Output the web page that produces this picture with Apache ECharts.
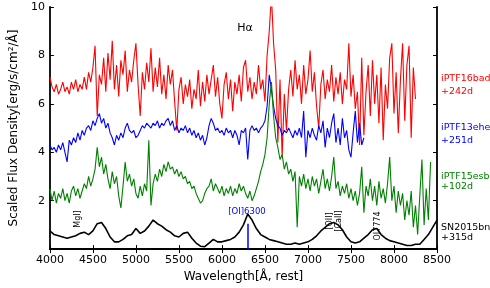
<!DOCTYPE html>
<html>
<head>
<meta charset="utf-8">
<script src="https://cdn.jsdelivr.net/npm/echarts@6/dist/echarts.min.js"></script>
<style>
  html, body { margin: 0; padding: 0; background: #fff; }
  #chart { width: 490px; height: 288px; }
</style>
</head>
<body>
<div id="chart"></div>
<script>
// flux samples, wavelength grid = start + step * i (Angstrom, rest)
const step = 25;
const redStart = 4000;
const redFlux = [
  7.1,6.7,6.5,6.8,6.4,6.6,6.9,6.5,6.7,6.4,6.9,6.6,7.0,6.5,6.8,6.6,7.1,
  6.6,7.3,6.9,7.5,8.4,5.5,7.2,6.8,7.9,6.5,8.1,7.0,8.6,6.6,7.6,6.3,7.8,7.2,8.2,6.5,7.4,
  6.9,7.8,8.5,6.8,5.5,7.3,6.6,7.7,6.9,8.3,6.5,7.5,6.7,7.9,6.4,7.2,6.2,7.6,6.8,7.4,6.1,4.9,
  6.6,7.1,6.0,6.8,6.3,7.0,5.8,6.6,6.2,7.4,5.9,6.9,6.1,7.2,6.4,
  7.0,7.6,6.3,7.1,6.0,5.4,6.8,7.3,6.2,7.0,5.7,6.9,6.4,7.2,6.1,7.5,7.8,6.5,7.1,6.2,6.9,6.4,
  7.6,6.6,7.0,6.1,8.0,
  9.0,10.5,8.5,7.4,4.4,7.0,3.8,6.4,4.9,6.6,
  7.4,6.3,7.8,6.6,7.2,6.0,7.6,6.4,7.0,8.2,6.5,7.3,5.9,5.0,6.8,7.4,6.2,7.0,6.5,7.6,6.1,7.1,
  6.4,7.3,6.0,7.0,6.6,8.5,6.3,7.2,5.8,6.5,4.3,7.9,4.7,6.5,
  7.6,5.5,7.8,6.0,7.2,5.2,7.5,4.5,6.8,5.8,7.9,8.5,5.6,7.3,4.8,7.0,8.5,5.3,7.6,8.4,4.6,7.5,6.2
];
const blueStart = 4000;
const blueFlux = [
  4.3,4.1,4.2,4.0,4.3,4.1,4.4,4.0,3.6,4.5,4.3,4.6,4.4,4.8,4.5,4.9,4.7,5.0,5.1,4.9,5.3,5.1,
  5.4,5.6,5.2,5.4,5.0,5.2,4.8,4.6,4.3,4.7,4.5,4.8,4.6,5.0,5.2,4.9,
  4.8,4.9,4.6,4.7,4.9,5.1,5.0,5.2,5.1,5.0,5.2,5.1,5.3,5.0,5.2,5.1,5.3,5.4,5.1,5.3,4.9,5.1,
  4.8,5.0,4.9,5.1,4.8,5.0,4.7,4.9,4.6,4.8,4.5,4.7,4.3,4.6,
  5.1,5.4,5.2,4.9,5.0,4.8,4.9,4.7,5.0,4.8,4.9,4.6,4.9,4.7,4.3,4.9,4.8,5.0,3.7,4.9,5.1,4.9,
  5.0,4.8,5.0,5.1,5.3,5.9,7.2,6.6,5.9,5.4,5.1,5.0,4.7,4.9,4.8,5.0,
  4.8,4.6,4.9,4.7,5.0,4.6,5.7,3.8,4.9,4.6,5.0,4.7,4.5,5.1,4.8,5.3,4.2,5.0,4.6,5.2,5.6,4.4,
  5.0,4.3,5.4,4.6,4.9,4.1,3.8,4.8,5.7,4.4,5.2,4.3,4.6
];
const greenStart = 4000;
const greenFlux = [
  2.5,2.0,2.4,1.9,2.3,2.1,2.5,2.0,2.3,1.9,2.4,2.6,2.2,2.5,2.1,2.4,2.7,2.5,3.0,2.6,2.9,3.3,
  4.2,3.4,3.8,3.1,3.5,2.9,2.5,3.2,2.7,3.0,2.2,1.7,2.6,3.6,2.8,3.1,
  2.6,2.9,2.3,2.1,2.6,2.2,2.7,2.4,4.5,1.8,2.7,3.1,2.8,3.3,3.0,3.5,3.2,3.6,3.3,3.4,3.1,3.3,
  3.0,3.2,2.9,3.0,2.7,2.8,2.5,2.6,2.3,2.1,1.9,2.0,2.3,2.5,
  2.6,2.9,2.4,2.7,2.5,2.3,2.6,2.2,2.5,2.3,2.6,2.2,2.5,2.3,2.7,2.4,2.6,2.3,2.1,2.4,2.0,2.2,
  2.5,2.8,3.2,3.5,3.9,4.6,6.0,6.9,5.5,4.6,4.2,3.7,3.9,3.3,3.6,3.1,
  3.3,2.8,3.2,0.9,3.0,2.6,3.1,2.5,2.9,2.4,3.0,2.6,2.9,2.3,2.8,3.3,2.5,2.9,2.4,3.0,3.8,2.5,
  2.8,2.2,2.6,2.3,2.7,2.1,2.5,2.0,2.4,1.8,2.3,3.4,1.5,2.6,
  2.2,2.9,2.0,2.6,1.8,2.8,2.1,2.5,1.9,2.7,3.8,2.0,2.6,1.5,2.4,1.8,2.3,1.2,2.0,1.4,2.4,0.9,
  1.8,0.6,2.2,3.7,1.0,2.5,1.2,3.6
];
const blackStart = 4000;
const blackStep = 50;
const blackFlux = [
  0.75,0.6,0.55,0.5,0.45,0.5,0.55,0.65,0.7,0.6,0.75,1.05,1.1,0.85,0.5,0.3,0.3,0.4,0.55,0.6,
  0.85,0.65,0.75,0.95,1.2,1.05,0.95,0.8,0.7,0.55,0.5,0.65,0.7,0.45,0.25,0.12,0.1,0.25,0.4,0.3,
  0.3,0.35,0.4,0.5,0.7,1.0,1.45,1.2,0.85,0.6,0.5,0.4,0.35,0.3,0.25,0.2,0.2,0.25,0.2,0.25,
  0.3,0.4,0.55,0.75,0.9,1.05,1.1,1.0,0.8,0.5,0.3,0.25,0.3,0.45,0.6,0.8,0.85,0.6,0.45,0.35,
  0.3,0.25,0.2,0.15,0.15,0.2,0.2,0.4,0.6,0.9,1.2
];

const xTicks = [4000, 4500, 5000, 5500, 6000, 6500, 7000, 7500, 8000, 8500];
const yTicks = [2, 4, 6, 8, 10];

function pairs(start, dx, arr) {
  return arr.map((v, i) => [start + dx * i, v]);
}

const font = 'DejaVu Sans';
let chart = echarts.init(document.getElementById('chart'));

const axisCommon = {
  axisLine: { show: true, lineStyle: { color: '#000', width: 1.8 } },
  axisTick: { show: true, inside: true, length: 4, lineStyle: { color: '#000', width: 1 } },
  splitLine: { show: false }
};

let option = {
  animation: false,
  grid: { left: 38, right: 53, top: 7, bottom: 34 },
  xAxis: [
    Object.assign({
      type: 'value', min: 4000, max: 8500, interval: 500, position: 'bottom',
      name: 'Wavelength[Å, rest]', nameLocation: 'middle', nameGap: 20,
      nameTextStyle: { fontFamily: font, fontSize: 12, color: '#000' },
      axisLabel: { fontFamily: font, fontSize: 11, color: '#000', margin: 6,
        formatter: v => (xTicks.indexOf(v) >= 0 ? String(v) : '') }
    }, axisCommon),
    Object.assign({
      type: 'value', min: 4000, max: 8500, interval: 500, position: 'top',
      axisLabel: { show: false }
    }, axisCommon)
  ],
  yAxis: [
    Object.assign({
      type: 'value', min: 0, max: 10, interval: 2, position: 'left',
      name: 'Scaled Flux Density[erg/s/cm²/Å]', nameLocation: 'middle', nameGap: 24,
      nameTextStyle: { fontFamily: font, fontSize: 12, color: '#000' },
      axisLabel: { fontFamily: font, fontSize: 11, color: '#000', margin: 5,
        formatter: v => (yTicks.indexOf(v) >= 0 ? String(v) : '') }
    }, axisCommon),
    Object.assign({
      type: 'value', min: 0, max: 10, interval: 2, position: 'right',
      axisLabel: { show: false }
    }, axisCommon)
  ],
  series: [
    {
      type: 'line', name: 'iPTF16bad', showSymbol: false, clip: true,
      data: pairs(redStart, step, redFlux),
      lineStyle: { color: '#ff0000', width: 1.1 }, itemStyle: { color: '#ff0000' }
    },
    {
      type: 'line', name: 'iPTF13ehe', showSymbol: false, clip: true,
      data: pairs(blueStart, step, blueFlux),
      lineStyle: { color: '#0000ff', width: 1.1 }, itemStyle: { color: '#0000ff' }
    },
    {
      type: 'line', name: 'iPTF15esb', showSymbol: false, clip: true,
      data: pairs(greenStart, step, greenFlux),
      lineStyle: { color: '#008000', width: 1.1 }, itemStyle: { color: '#008000' }
    },
    {
      type: 'line', name: 'SN2015bn', showSymbol: false, clip: true,
      data: pairs(blackStart, blackStep, blackFlux),
      lineStyle: { color: '#000', width: 1.6 }, itemStyle: { color: '#000' },
      markLine: {
        silent: true, symbol: 'none', label: { show: false },
        lineStyle: { color: '#0000ff', width: 1.5, type: 'solid' },
        data: [[{ coord: [6300, 0] }, { coord: [6300, 1.05] }]]
      }
    }
  ],
  graphic: [
    { type: 'text', x: 245, y: 28, style: { text: 'Hα', fill: '#000', font: '11px ' + font, textAlign: 'center', textVerticalAlign: 'middle' } },
    { type: 'text', x: 78, y: 219, rotation: Math.PI / 2, style: { text: 'MgI]', fill: '#000', font: '8px ' + font, textAlign: 'center', textVerticalAlign: 'middle' } },
    { type: 'text', x: 247, y: 212, style: { text: '[OI]6300', fill: '#0000ff', font: '8.5px ' + font, textAlign: 'center', textVerticalAlign: 'middle' } },
    { type: 'text', x: 334, y: 221, rotation: Math.PI / 2, style: { text: '[OII]\n[CaII]', fill: '#000', font: '8px ' + font, lineHeight: 9, textAlign: 'center', textVerticalAlign: 'middle' } },
    { type: 'text', x: 378, y: 226, rotation: Math.PI / 2, style: { text: 'OI7774', fill: '#000', font: '8px ' + font, textAlign: 'center', textVerticalAlign: 'middle' } },
    { type: 'text', x: 441, y: 79, style: { text: 'iPTF16bad', fill: '#ff0000', font: '9.5px ' + font, textVerticalAlign: 'middle' } },
    { type: 'text', x: 441, y: 92, style: { text: '+242d', fill: '#ff0000', font: '9.5px ' + font, textVerticalAlign: 'middle' } },
    { type: 'text', x: 441, y: 128, style: { text: 'iPTF13ehe', fill: '#0000ff', font: '9.5px ' + font, textVerticalAlign: 'middle' } },
    { type: 'text', x: 441, y: 141, style: { text: '+251d', fill: '#0000ff', font: '9.5px ' + font, textVerticalAlign: 'middle' } },
    { type: 'text', x: 441, y: 177, style: { text: 'iPTF15esb', fill: '#008000', font: '9.5px ' + font, textVerticalAlign: 'middle' } },
    { type: 'text', x: 441, y: 187, style: { text: '+102d', fill: '#008000', font: '9.5px ' + font, textVerticalAlign: 'middle' } },
    { type: 'text', x: 441, y: 228, style: { text: 'SN2015bn', fill: '#000', font: '9.5px ' + font, textVerticalAlign: 'middle' } },
    { type: 'text', x: 441, y: 238, style: { text: '+315d', fill: '#000', font: '9.5px ' + font, textVerticalAlign: 'middle' } }
  ]
};
chart.setOption(option);
</script>
</body>
</html>
